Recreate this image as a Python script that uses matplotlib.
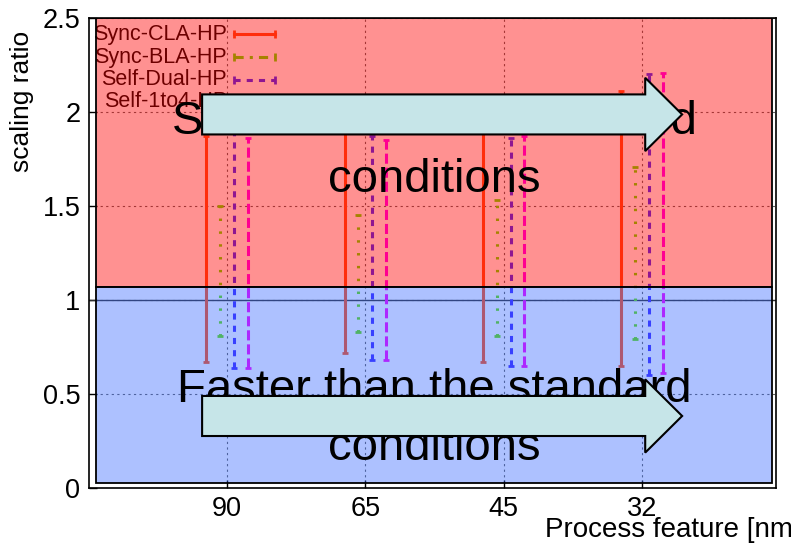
import matplotlib
matplotlib.use('Agg')
import matplotlib.pyplot as plt
from matplotlib.patches import Rectangle, FancyArrow
import numpy as np

plt.rcParams['font.family'] = ['Liberation Sans', 'DejaVu Sans']

# process nodes on the x axis
features = ['90', '65', '45', '32']

# min / max scaling ratio of each design at each node
sync_cla_lo = [0.67, 0.72, 0.67, 0.65]
sync_cla_hi = [1.87, 2.09, 2.00, 2.11]
sync_bla_lo = [0.81, 0.83, 0.81, 0.79]
sync_bla_hi = [1.50, 1.45, 1.53, 1.71]
self_dual_lo = [0.64, 0.68, 0.65, 0.60]
self_dual_hi = [1.95, 1.87, 1.86, 2.20]
self_1to4_lo = [0.64, 0.68, 0.65, 0.61]
self_1to4_hi = [1.86, 1.85, 1.87, 2.21]

names = ['Sync-CLA-HP', 'Sync-BLA-HP', 'Self-Dual-HP', 'Self-1to4-HP']
lows = [sync_cla_lo, sync_bla_lo, self_dual_lo, self_1to4_lo]
highs = [sync_cla_hi, sync_bla_hi, self_dual_hi, self_1to4_hi]
colors = ['#ff5014', '#64e600', '#3c28ff', '#ff00ff']
styles = ['-', (0, (0.8, 3.4)), (0, (2.0, 2.0)), (0, (3.3, 1.3))]
legend_styles = ['-', (0, (3, 2, 1, 2)), (0, (2.0, 2.0)), (0, (3.3, 1.3))]
offsets = [-0.15, -0.05, 0.05, 0.15]

fig = plt.figure(figsize=(7.91, 5.45), dpi=100)
ax = fig.add_axes([0.1121, 0.1046, 0.8692, 0.8624])

x = np.arange(1, len(features) + 1)

ax.set_axisbelow(True)
ax.grid(True, color='#606060', linestyle=(0, (2, 3)), linewidth=0.8)
ax.axhline(1.0, color='#303030', linewidth=1.0, zorder=1)

for lo, hi, c, ls, off in zip(lows, highs, colors, styles, offsets):
    xs = x + off
    ax.vlines(xs, lo, hi, colors=c, linestyles=[ls], linewidth=2.2, zorder=2)
    ax.plot(xs, lo, linestyle='none', marker='_', ms=5, mew=2, color=c, zorder=2)
    ax.plot(xs, hi, linestyle='none', marker='_', ms=5, mew=2, color=c, zorder=2)

# key in the top left corner, labels right aligned
key_y = [0.9653, 0.9164, 0.8681, 0.822]
for name, c, ls, ky in zip(names, colors, legend_styles, key_y):
    ax.text(0.201, ky, name, transform=ax.transAxes, ha='right', va='center',
            fontsize=15.5, color='black', zorder=2.5)
    ax.plot([0.2115, 0.271], [ky, ky], transform=ax.transAxes, color=c,
            linestyle=ls, linewidth=2.2, marker='|', ms=6, mew=2, zorder=2.5,
            clip_on=False)

# translucent shading for the slower / faster zones
ax.add_patch(Rectangle((0.053, 1.07), 4.94 - 0.053, 2.5 - 1.07,
                       facecolor=(1.0, 0.0, 0.0, 0.43), edgecolor='black',
                       linewidth=1.3, zorder=3))
ax.add_patch(Rectangle((0.053, 0.025), 4.94 - 0.053, 1.07 - 0.025,
                       facecolor=(0.2, 0.4, 1.0, 0.40), edgecolor='black',
                       linewidth=1.3, zorder=3))

ax.text(2.5, 1.883, 'Slower than the standard', ha='center', va='baseline',
        fontsize=34, zorder=4)
ax.text(2.5, 1.574, 'conditions', ha='center', va='baseline', fontsize=34, zorder=4)
ax.text(2.5, 0.457, 'Faster than the standard', ha='center', va='baseline',
        fontsize=34, zorder=4)
ax.text(2.5, 0.149, 'conditions', ha='center', va='baseline', fontsize=34, zorder=4)

for ay in [1.987, 0.383]:
    ax.add_patch(FancyArrow(0.82, ay, 4.29 - 0.82, 0, width=0.213,
                            head_width=0.39, head_length=0.267,
                            length_includes_head=True, facecolor='#c6e5e8',
                            edgecolor='black', linewidth=1.5, zorder=5))

ax.set_xlim(0, 4.97)
ax.set_ylim(0, 2.5)
ax.set_xticks(x)
ax.set_xticklabels(features)
ax.set_yticks([0, 0.5, 1, 1.5, 2, 2.5])
ax.set_yticklabels(['0', '0.5', '1', '1.5', '2', '2.5'])
ax.tick_params(direction='in', length=6, width=1, labelsize=19.5, pad=6,
               top=False, right=False)
for sp in ax.spines.values():
    sp.set_linewidth(1.2)
    sp.set_zorder(6)

fig.text(22 / 791, 1 - 101 / 545, 'scaling ratio', rotation=90, ha='center',
         va='center', fontsize=19)
fig.text(545 / 791, 1 - 530 / 545, 'Process feature [nm]', ha='left',
         va='center', fontsize=20)

fig.savefig('out.png', dpi=100)
